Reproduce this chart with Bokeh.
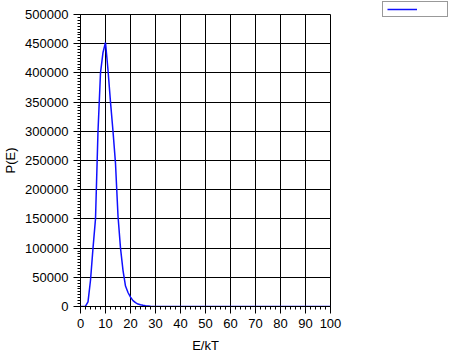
from bokeh.plotting import figure
from bokeh.models import Range1d, Legend, LegendItem, BasicTickFormatter, SingleIntervalTicker
from bokeh.embed import file_html
from bokeh.resources import INLINE

# Energy in units of kT (sampled at integer values)
energy = list(range(0, 101))
# Probability values
prob = [0, 0, 500, 8000, 45000, 100000, 150000, 300000, 400000, 435000,
        452000, 405000, 350000, 300000, 245000, 155000, 100000, 62000, 35000, 24000,
        16000, 10000, 6500, 4200, 3000, 2000, 1400, 900, 400, 200,
        100, 0, 0, 0, 0, 0, 0, 0, 0, 0,
        0, 0, 0, 0, 0, 0, 0, 0, 0, 0,
        0, 0, 0, 0, 0, 0, 0, 0, 0, 0,
        0, 0, 0, 0, 0, 0, 0, 0, 0, 0,
        0, 0, 0, 0, 0, 0, 0, 0, 0, 0,
        0, 0, 0, 0, 0, 0, 0, 0, 0, 0,
        0, 0, 0, 0, 0, 0, 0, 0, 0, 0,
        0]
x_tick_step = 10
y_tick_step = 50000

FONT = "Liberation Sans"

p = figure(frame_width=250, frame_height=292, output_backend="svg", toolbar_location=None,
           x_range=Range1d(0, 100), y_range=Range1d(0, 500000),
           min_border_left=79, min_border_right=124, min_border_top=14, min_border_bottom=51,
           background_fill_color="white", border_fill_color="white")
p.outline_line_color = "black"
p.outline_line_width = 1

r = p.line(energy, prob, line_color="#1010ff", line_width=1.5)

for ax in (p.xaxis[0], p.yaxis[0]):
    ax.axis_line_color = "black"
    ax.major_tick_line_color = "black"
    ax.minor_tick_line_color = "black"
    ax.major_tick_in = 0
    ax.major_tick_out = 7
    ax.minor_tick_in = 0
    ax.minor_tick_out = 3
    ax.major_label_text_font = FONT
    ax.major_label_text_font_size = "13px"
    ax.major_label_text_color = "black"
    ax.axis_label_text_font = FONT
    ax.axis_label_text_font_size = "13px"
    ax.axis_label_text_font_style = "normal"
    ax.axis_label_text_color = "black"

xt = SingleIntervalTicker(interval=x_tick_step, num_minor_ticks=5)
yt = SingleIntervalTicker(interval=y_tick_step, num_minor_ticks=10)
p.xaxis[0].ticker = xt
p.yaxis[0].ticker = yt
p.xgrid.ticker = xt
p.ygrid.ticker = yt
p.yaxis[0].formatter = BasicTickFormatter(use_scientific=False)
p.xaxis[0].axis_label = "E/kT"
p.yaxis[0].axis_label = "P(E)"
p.xaxis[0].major_label_standoff = 5
p.yaxis[0].major_label_standoff = 5
p.xaxis[0].axis_label_standoff = 7
p.yaxis[0].axis_label_standoff = 4

p.xgrid.grid_line_color = "black"
p.ygrid.grid_line_color = "black"
p.xgrid.grid_line_width = 1
p.ygrid.grid_line_width = 1

legend = Legend(items=[LegendItem(label=" ", renderers=[r])], location=(52, 289),
                padding=4, margin=0, glyph_width=30, glyph_height=6, label_height=6,
                label_width=26, label_standoff=0, spacing=0,
                border_line_color="#333333", border_line_width=1.5,
                background_fill_color="white", background_fill_alpha=1,
                label_text_font_size="6px")
p.add_layout(legend, "right")

open("out.html", "w").write(file_html(p, INLINE))
